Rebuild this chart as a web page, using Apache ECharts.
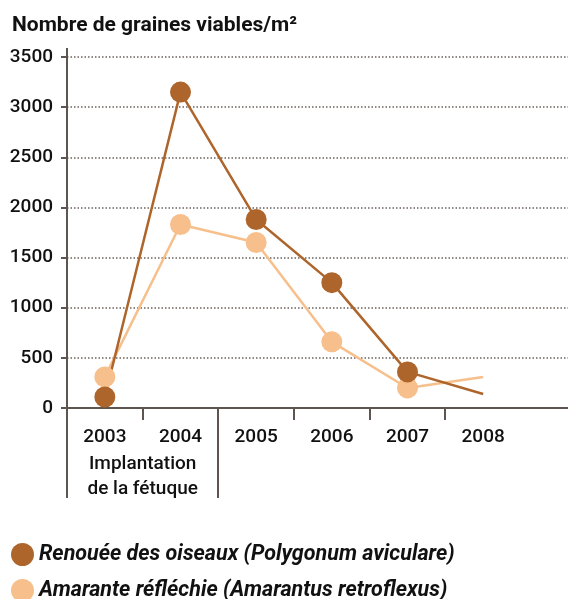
<!DOCTYPE html>
<html>
<head>
<meta charset="utf-8">
<script src="https://cdn.jsdelivr.net/npm/echarts@6/dist/echarts.min.js"></script>
<style>
  html, body { margin: 0; padding: 0; background: #fff; }
  #main { width: 568px; height: 599px; }
</style>
</head>
<body>
<div id="main"></div>
<script>
// données
var years = ['2003', '2004', '2005', '2006', '2007', '2008'];
var renouee = [110, 3150, 1880, 1250, 360, 140];
var amarante = [310, 1830, 1650, 660, 200, 310];
var yTicks = [0, 500, 1000, 1500, 2000, 2500, 3000, 3500];
var seriesNames = ['Renouée des oiseaux (Polygonum aviculare)', 'Amarante réfléchie (Amarantus retroflexus)'];

var axisColor = '#5e5450';
var brown = '#ae652b';
var light = '#f6bf8b';

var chart = echarts.init(document.getElementById('main'), null, { renderer: 'canvas' });

// le dernier point (2008) n'a pas de marqueur
function toData(arr) {
  return arr.map(function (v, i) {
    return i === arr.length - 1 ? { value: v, symbol: 'none' } : v;
  });
}

// une légende par ligne, pour garder la mise en page verticale
function legendFor(name, top) {
  return {
    left: 6,
    top: top,
    itemWidth: 23,
    itemHeight: 23,
    icon: 'circle',
    data: [name],
    textStyle: { fontSize: 21.5, fontStyle: 'italic', fontWeight: 'bold', color: '#111' }
  };
}

var option = {
  animation: false,
  textStyle: { fontFamily: 'Roboto' },
  title: {
    text: 'Nombre de graines viables/m²',
    left: 7,
    top: 10,
    textStyle: { fontSize: 21, fontWeight: 'bold', color: '#111' }
  },
  legend: [legendFor(seriesNames[0], 538), legendFor(seriesNames[1], 574)],
  grid: [
    { left: 67, right: 0, top: 57, bottom: 191 },   // grille pleine largeur (axes, quadrillage)
    { left: 67, right: 47, top: 57, bottom: 191 }   // grille des séries
  ],
  xAxis: [
    {
      gridIndex: 0, type: 'value', min: 0, max: 1,
      axisLine: { show: true, lineStyle: { color: axisColor, width: 2 } },
      axisTick: { show: false }, axisLabel: { show: false }, splitLine: { show: false }
    },
    {
      gridIndex: 1, type: 'category', data: years, boundaryGap: true,
      axisLine: { show: false }, axisTick: { show: false },
      axisLabel: { fontSize: 19, fontWeight: 500, color: '#111', margin: 20 }
    }
  ],
  yAxis: [
    {
      gridIndex: 0, type: 'value', min: yTicks[0], max: yTicks[yTicks.length - 1], interval: 500,
      axisLine: { show: false },
      axisTick: { show: true, length: 6, lineStyle: { color: axisColor, width: 2 } },
      axisLabel: { fontSize: 19, fontWeight: 500, color: '#111', margin: 14, formatter: function (v) { return String(v); } },
      splitLine: { show: true, lineStyle: { color: '#6a605c', type: [1.5, 2], width: 1.5 } }
    },
    {
      gridIndex: 1, type: 'value', min: yTicks[0], max: yTicks[yTicks.length - 1],
      show: false
    }
  ],
  series: [
    {
      name: seriesNames[1], type: 'line', xAxisIndex: 1, yAxisIndex: 1,
      data: toData(amarante),
      symbol: 'circle', symbolSize: 21,
      itemStyle: { color: light },
      lineStyle: { color: light, width: 2.5 }
    },
    {
      name: seriesNames[0], type: 'line', xAxisIndex: 1, yAxisIndex: 1,
      data: toData(renouee),
      symbol: 'circle', symbolSize: 21,
      itemStyle: { color: brown },
      lineStyle: { color: brown, width: 2.5 }
    }
  ]
};
chart.setOption(option);

// traits de l'axe x : graduations entre les années, séparateur long pour la période d'implantation
var c0 = chart.convertToPixel({ xAxisIndex: 1 }, 0);
var c1 = chart.convertToPixel({ xAxisIndex: 1 }, 1);
var band = c1 - c0;
var yZero = chart.convertToPixel({ yAxisIndex: 0 }, 0);
var yTop = chart.convertToPixel({ yAxisIndex: 0 }, 3500);
var xLeft = c0 - band / 2;
var bottomY = 498;
var g = [];
function seg(x1, y1, x2, y2) {
  g.push({ type: 'line', shape: { x1: x1, y1: y1, x2: x2, y2: y2 }, style: { stroke: axisColor, lineWidth: 2 }, z: 5 });
}
seg(xLeft, yTop - 9, xLeft, bottomY);
for (var i = 1; i < years.length; i++) {
  var bx = Math.round(c0 + band * (i - 0.5));
  seg(bx, yZero, bx, i === 2 ? bottomY : yZero + 12);
}
g.push({
  type: 'text', x: c0 + band / 2, y: yZero + 44, z: 5,
  style: { text: 'Implantation\nde la fétuque', font: '500 19px Roboto', fill: '#111', align: 'center', verticalAlign: 'top', lineHeight: 25 }
});
chart.setOption({ graphic: g });
</script>
</body>
</html>
